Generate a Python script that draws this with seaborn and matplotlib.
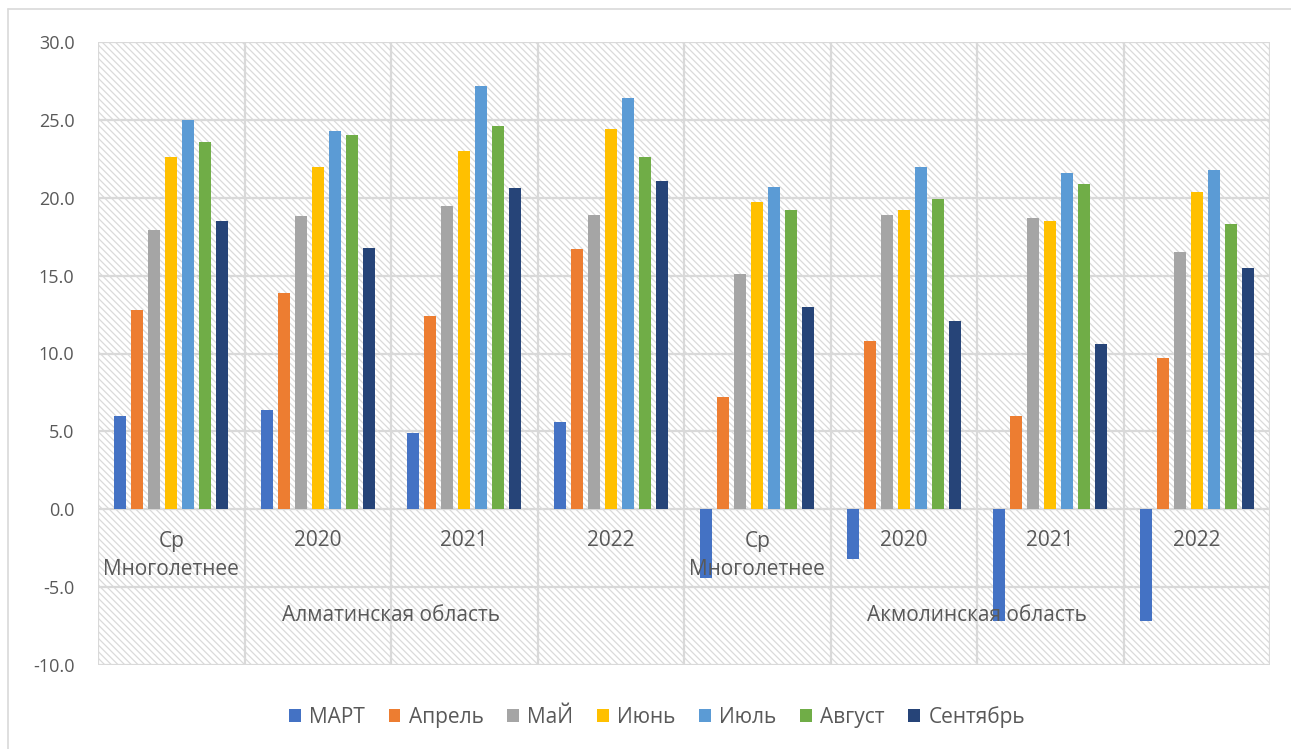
import numpy as np
import pandas as pd
import matplotlib
matplotlib.use("Agg")
import matplotlib.pyplot as plt
from matplotlib.patches import Rectangle
from matplotlib.lines import Line2D
import seaborn as sns

# Regions and periods (two-level category axis)
regions = ["Алматинская область", "Акмолинская область"]
periods = ["Ср\nМноголетнее", "2020", "2021", "2022"]
months = ["МАРТ", "Апрель", "МаЙ", "Июнь", "Июль", "Август", "Сентябрь"]

# Mean monthly temperature, one value per region/period
mart = [6.0, 6.4, 4.9, 5.6, -4.4, -3.2, -7.2, -7.2]
aprel = [12.8, 13.9, 12.4, 16.7, 7.2, 10.8, 6.0, 9.7]
mai = [17.9, 18.8, 19.5, 18.9, 15.1, 18.9, 18.7, 16.5]
iyun = [22.6, 22.0, 23.0, 24.4, 19.7, 19.2, 18.5, 20.4]
iyul = [25.0, 24.3, 27.2, 26.4, 20.7, 22.0, 21.6, 21.8]
avgust = [23.6, 24.0, 24.6, 22.6, 19.2, 19.9, 20.9, 18.3]
sentyabr = [18.5, 16.8, 20.6, 21.1, 13.0, 12.1, 10.6, 15.5]

series = [mart, aprel, mai, iyun, iyul, avgust, sentyabr]
palette = ["#4472C4", "#ED7D31", "#A5A5A5", "#FFC000", "#5B9BD5", "#70AD47", "#264478"]

y_ticks = [-10, -5, 0, 5, 10, 15, 20, 25, 30]

sns.set_theme(style="white")
plt.rcParams["font.family"] = ["Open Sans", "DejaVu Sans"]
plt.rcParams["hatch.linewidth"] = 0.9

keys = [f"{r} | {p}" for r in regions for p in periods]
rows = []
for m, vals in zip(months, series):
    for k, v in zip(keys, vals):
        rows.append({"key": k, "month": m, "value": v})
df = pd.DataFrame(rows)

W, H = 1291, 749
text_color = "#595959"
grid_color = "#d9d9d9"

fig = plt.figure(figsize=(W / 100, H / 100), dpi=100)
ax = fig.add_axes([98 / W, 1 - 665 / H, (1270 - 98) / W, (665 - 42) / H])

# hatched plot-area background
bg = Rectangle((0, 0), 1, 1, transform=ax.transAxes, facecolor="white",
               edgecolor="#dadada", hatch="\\\\\\\\\\", linewidth=0, zorder=0)
ax.add_patch(bg)

sns.barplot(data=df, x="key", y="value", hue="month", order=keys,
            hue_order=months, palette=palette, saturation=1, width=0.81,
            gap=0.29, linewidth=0, errorbar=None, ax=ax)

for p in ax.patches:
    if p is not bg:
        p.set_zorder(3)

ax.set_xlim(-0.5, len(keys) - 0.5)
ax.set_ylim(y_ticks[0], y_ticks[-1])

# grid: horizontal at value ticks, vertical between categories
for y in y_ticks:
    ax.axhline(y, color=grid_color, lw=1.6, zorder=1)
for x in np.arange(-0.5, len(keys), 1.0):
    ax.axvline(x, color=grid_color, lw=1.6, zorder=1)

ax.set_yticks(y_ticks)
ax.set_yticklabels([f"{v:.1f}" for v in y_ticks])
ax.set_xticks([])
ax.set_xlabel("")
ax.set_ylabel("")
ax.tick_params(axis="y", length=0, pad=17, labelsize=13, labelcolor=text_color)
for s in ax.spines.values():
    s.set_visible(False)

# two-level category labels
for i, k in enumerate(keys):
    p = periods[i % len(periods)]
    if "\n" in p:
        ax.text(i, -2.95, p, ha="center", va="center", fontsize=15,
                color=text_color, linespacing=1.45, zorder=4)
    else:
        ax.text(i, -2.0, p, ha="center", va="center", fontsize=15,
                color=text_color, zorder=4)
for j, r in enumerate(regions):
    center = j * len(periods) + (len(periods) - 1) / 2
    ax.text(center, -6.8, r, ha="center", va="center", fontsize=15,
            color=text_color, zorder=4)

handles, labels = ax.get_legend_handles_labels()
if ax.get_legend() is not None:
    ax.get_legend().remove()
fig.legend(handles, labels, loc="center", bbox_to_anchor=(657 / W, 1 - 717 / H),
           ncol=7, frameon=False, fontsize=15, handlelength=0.55,
           handleheight=0.55, handletextpad=0.4, columnspacing=1.15,
           labelcolor=text_color)

# chart frame
fig.add_artist(Line2D([8 / W, 1], [1 - 9 / H, 1 - 9 / H], color=grid_color,
                      lw=1.2, transform=fig.transFigure))
fig.add_artist(Line2D([8 / W, 8 / W], [0, 1 - 9 / H], color=grid_color,
                      lw=1.2, transform=fig.transFigure))

fig.savefig("out.png", dpi=100)
